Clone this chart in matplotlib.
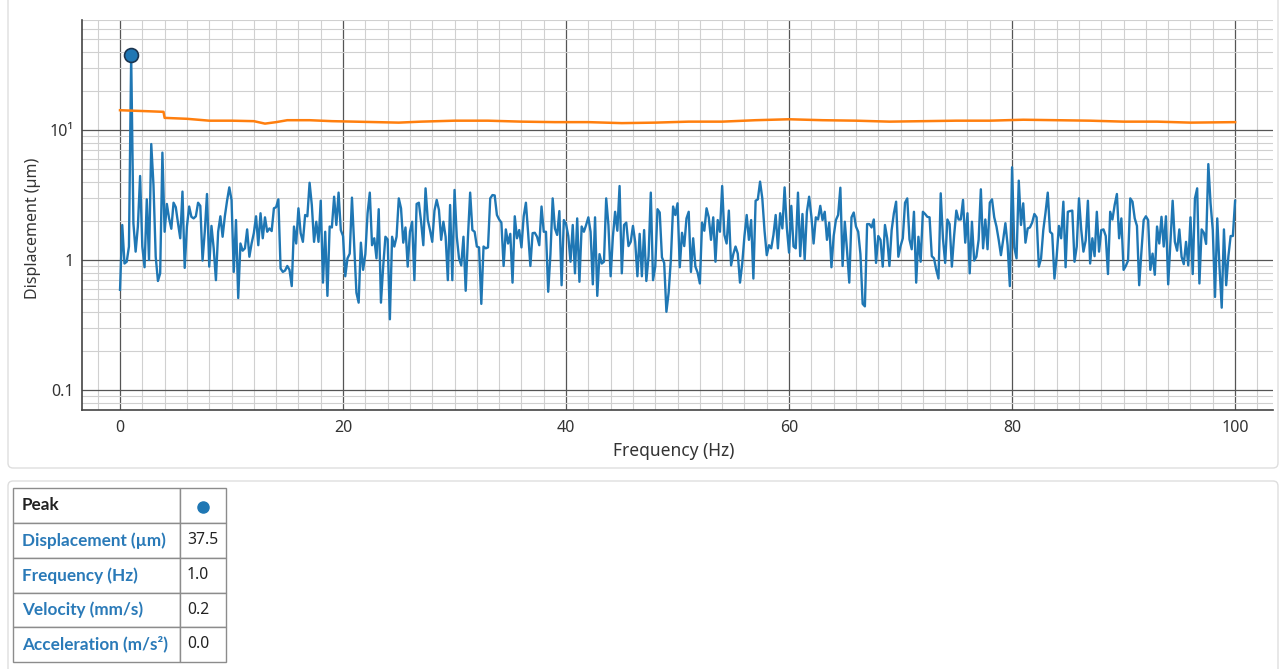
import numpy as np
import matplotlib
matplotlib.use('Agg')
import matplotlib.pyplot as plt
from matplotlib.patches import FancyBboxPatch, Rectangle
from matplotlib.ticker import FixedLocator, FixedFormatter, NullFormatter

plt.rcParams['font.family'] = ['Noto Sans', 'DejaVu Sans']

# displacement spectrum, 0..100 Hz, 0.2 Hz bins
disp = [
    0.59, 1.86, 0.94, 0.97, 1.27, 37.5, 1.92, 1.16, 1.81, 4.43,
    1.27, 0.88, 2.93, 1.00, 7.8, 3.78, 1.06, 0.69, 0.79, 6.7,
    1.65, 2.70, 2.09, 1.74, 2.76, 2.55, 1.92, 1.47, 3.36, 0.87,
    1.81, 2.58, 2.15, 2.09, 2.17, 2.76, 2.61, 0.99, 1.65, 3.22,
    0.89, 1.83, 1.23, 0.70, 1.65, 2.17, 1.51, 2.17, 2.86, 3.62,
    2.90, 0.81, 2.03, 0.51, 1.34, 1.18, 1.23, 1.72, 1.06, 1.34,
    1.61, 2.17, 1.30, 2.29, 1.47, 2.13, 1.65, 1.75, 1.67, 2.50,
    2.55, 2.93, 0.86, 0.81, 0.83, 0.90, 0.84, 0.63, 1.81, 1.34,
    2.50, 1.61, 1.38, 2.22, 2.17, 3.93, 2.65, 1.38, 1.97, 1.38,
    2.86, 0.67, 1.65, 0.53, 1.81, 1.78, 3.07, 1.86, 3.30, 1.70,
    1.53, 0.75, 1.03, 1.12, 3.02, 1.30, 0.56, 0.47, 1.36, 0.84,
    1.11, 2.29, 3.30, 1.30, 1.47, 1.03, 2.46, 0.47, 0.89, 1.51,
    1.44, 0.35, 1.51, 1.27, 1.51, 2.98,
    2.50, 1.36, 1.78, 0.89, 1.65, 1.97, 0.70, 2.70, 2.76, 1.97,
    1.30, 3.56, 2.03, 1.70, 1.38, 2.40, 2.90, 2.43, 1.43, 1.97,
    1.51, 0.70, 2.65, 0.70, 3.46, 1.51, 1.03, 0.91, 1.51, 0.58,
    1.49, 3.30, 1.70, 1.65, 1.27, 1.25, 0.46, 1.27, 1.23, 1.25,
    2.98, 3.16, 3.14, 2.22, 2.05, 1.94, 0.90, 1.72, 1.34, 1.59,
    0.67, 2.17, 1.47, 1.70, 1.25, 2.17, 2.76, 1.61, 0.90, 1.61,
    1.62, 1.51, 1.30, 2.58, 1.65, 1.65, 0.57, 1.11, 2.98, 1.75,
    1.56, 2.38, 0.64, 2.03, 1.89, 1.53, 0.97, 1.86, 0.79, 2.09,
    0.68, 1.81, 1.65, 1.86, 2.13, 1.65, 0.65, 2.13, 0.53, 1.11,
    0.94, 0.97, 2.98, 1.86, 0.75, 1.51, 2.35, 1.68, 3.71, 0.79,
    1.86, 1.94, 1.28, 1.38, 1.83, 1.38, 0.75, 1.59, 0.75, 1.70,
    0.69, 1.07, 3.30, 0.70, 0.89, 2.46, 2.32, 1.05, 0.95, 0.40,
    0.56, 1.01, 2.58, 2.22, 2.73, 0.88,
    1.62, 1.28, 2.09, 2.35, 0.81, 1.47, 0.89, 0.80, 0.66, 1.94,
    1.68, 2.50, 2.13, 1.43, 2.13, 0.97, 2.03, 1.65, 3.71, 1.56,
    1.34, 2.40, 0.91, 1.11, 1.27, 1.12, 0.67, 0.94, 1.53, 2.22,
    1.43, 2.03, 0.72, 2.86, 2.93, 4.01, 2.98, 1.68, 1.09, 1.30,
    1.23, 1.56, 2.22, 1.23, 2.29, 1.75, 3.62, 1.77, 1.14, 2.61,
    1.27, 1.23, 3.30, 1.07, 2.26, 1.01, 2.35, 3.07, 2.17, 1.34,
    2.13, 2.05, 2.61, 2.03, 2.35, 1.43, 1.94, 0.88, 1.53, 2.03,
    2.22, 3.60, 0.90, 1.97, 1.18, 0.67, 2.13, 2.32, 1.81, 1.65,
    1.11, 0.46, 0.44, 1.89, 1.89, 1.78, 2.05, 0.95, 1.53, 1.43,
    0.89, 1.86, 1.47, 0.90, 1.70, 2.29, 2.81, 1.06, 1.28, 1.47,
    2.76, 2.98, 1.44, 1.21, 2.35, 0.67, 1.51, 0.97, 2.35, 2.26,
    2.15, 2.13, 1.07, 1.03, 0.84, 0.72, 3.26, 1.47, 0.95, 2.05,
    1.89, 0.89, 1.53, 2.40, 2.05,
    2.05, 2.90, 1.36, 2.29, 0.79, 1.97, 0.99, 1.06, 1.43, 3.50,
    1.23, 2.05, 1.21, 2.76, 2.93, 2.13, 1.81, 1.43, 1.09, 1.43,
    1.92, 1.30, 0.63, 5.17, 1.25, 1.03, 4.08, 1.86, 2.73, 1.36,
    1.75, 1.78, 1.94, 2.26, 2.13, 0.89, 1.03, 1.70, 2.32, 3.30,
    1.65, 1.59, 0.72, 1.07, 1.83, 1.47, 2.81, 0.88, 2.35, 2.38,
    2.40, 0.97, 1.27, 2.98, 1.72, 1.16, 1.41, 2.86, 0.94, 1.47,
    1.07, 2.35, 1.16, 1.70, 1.72, 1.53, 0.78, 2.35, 2.05, 2.65,
    3.22, 1.47, 2.09, 0.84, 0.90, 0.99, 2.98, 2.81, 2.09, 1.83,
    0.64, 1.16, 2.03, 2.17, 2.03, 0.84, 1.12, 0.77, 1.81, 1.34,
    2.15, 1.27, 2.17, 0.65, 1.34, 2.86, 1.38, 1.18, 1.72, 1.06,
    0.93, 1.38, 0.91, 2.13, 0.78, 2.98, 3.56, 0.66, 1.72, 1.62,
    1.33, 5.47, 2.73, 1.70, 0.52, 2.09, 0.89, 0.43, 1.72, 0.64,
    1.07, 1.53, 1.53, 2.86,
]
freq = np.linspace(0, 100, len(disp))

# alarm threshold line
thr_freq = [0, 2, 3.9, 4.0, 5, 6, 7, 8, 10, 12, 13, 14, 15, 17, 19, 21, 23, 25, 27, 30,
            33, 36, 39, 42, 45, 48, 51, 54, 57, 60, 63, 66, 69, 72, 75, 78, 81, 84, 87, 90,
            93, 96, 100]
thr_disp = [14.2, 14.0, 13.8, 12.4, 12.3, 12.2, 12.0, 11.8, 11.8, 11.7, 11.2, 11.5, 11.9, 11.9,
            11.7, 11.6, 11.5, 11.4, 11.6, 11.8, 11.8, 11.6, 11.5, 11.5, 11.3, 11.4, 11.6, 11.6,
            11.9, 12.1, 11.9, 11.8, 11.6, 11.7, 11.8, 11.8, 12.0, 11.9, 11.8, 11.6, 11.6, 11.4,
            11.5]

peak_freq = 1.0
peak_disp = 37.5

x_ticks = [0, 20, 40, 60, 80, 100]
y_ticks = [0.1, 1, 10]
y_ticklabels = ['0.1', '1', '10\u00b9']

table_header = 'Peak'
table_labels = ['Displacement (\u00b5m)', 'Frequency (Hz)', 'Velocity (mm/s)', 'Acceleration (m/s\u00b2)']
table_values = ['37.5', '1.0', '0.2', '0.0']

BLUE = '#1f77b4'
ORANGE = '#ff7f0e'
W, H = 1280, 669
BOLD_FONT = ['Lato', 'DejaVu Sans']

fig = plt.figure(figsize=(W / 100, H / 100), dpi=100)

# page background with the two cards, in pixel coords
bg = fig.add_axes([0, 0, 1, 1])
bg.set_xlim(0, W)
bg.set_ylim(H, 0)
bg.axis('off')
bg.add_patch(FancyBboxPatch((8, -10), 1270, 478, boxstyle='round,pad=0,rounding_size=5',
                            fc='white', ec='#dedede', lw=1))
bg.add_patch(FancyBboxPatch((8, 481), 1270, 200, boxstyle='round,pad=0,rounding_size=5',
                            fc='white', ec='#dedede', lw=1))

# chart
ax = fig.add_axes([82 / W, 1 - 410 / H, (1273 - 82) / W, (410 - 20) / H])
ax.plot(freq, disp, color=BLUE, lw=1.7, zorder=3)
ax.plot(thr_freq, thr_disp, color=ORANGE, lw=1.8, zorder=3)
ax.plot([peak_freq], [peak_disp], 'o', ms=10, mfc=BLUE, mec='#1b3550', mew=1.2, zorder=4)

ax.set_yscale('log')
ax.set_xlim(-3.41, 103.4)
ax.set_ylim(0.0702, 70.2)

ax.xaxis.set_major_locator(FixedLocator(x_ticks))
ax.xaxis.set_minor_locator(FixedLocator(np.arange(-2, 104, 2)))
ax.yaxis.set_major_locator(FixedLocator(y_ticks))
ax.yaxis.set_major_formatter(FixedFormatter(y_ticklabels))
minor_y = [m * d for d in (0.01, 0.1, 1, 10) for m in range(2, 10)]
ax.yaxis.set_minor_locator(FixedLocator(minor_y))
ax.yaxis.set_minor_formatter(NullFormatter())

ax.grid(which='minor', color='#d0d0d0', lw=0.8)
ax.grid(which='major', color='#555555', lw=0.9)
ax.set_axisbelow(True)
ax.tick_params(which='both', length=0, labelsize=11.5, colors='#333333')
ax.tick_params(axis='x', pad=7)
ax.tick_params(axis='y', pad=6)
for s in ['top', 'right']:
    ax.spines[s].set_visible(False)
for s in ['left', 'bottom']:
    ax.spines[s].set_color('#444444')
    ax.spines[s].set_linewidth(1.2)

fig.text(674 / W, 1 - 451 / H, 'Frequency (Hz)', ha='center', va='center', fontsize=12.5, color='#333333')
fig.text(33 / W, 1 - 228 / H, 'Displacement (\u00b5m)', ha='center', va='center', rotation=90,
         fontsize=11.5, color='#333333')

# peak table
rows = [488, 523, 558, 592.5, 627, 661.5]
cols = [13, 180, 226]
for r in range(len(rows) - 1):
    for c in range(len(cols) - 1):
        bg.add_patch(Rectangle((cols[c], rows[r]), cols[c + 1] - cols[c], rows[r + 1] - rows[r],
                               fc='white', ec='#8c8c8c', lw=1))
bg.text(22, (rows[0] + rows[1]) / 2, table_header, ha='left', va='center', fontsize=12.3,
        fontweight='bold', family=BOLD_FONT, color='#222222')
bg.plot([(cols[1] + cols[2]) / 2], [(rows[0] + rows[1]) / 2 + 1], 'o', ms=8, color=BLUE)
for i, (lab, val) in enumerate(zip(table_labels, table_values)):
    yc = (rows[i + 1] + rows[i + 2]) / 2
    bg.text(22, yc, lab, ha='left', va='center', fontsize=12.3, fontweight='bold',
            family=BOLD_FONT, color='#2a7ab8')
    bg.text(187, yc, val, ha='left', va='center', fontsize=11.3, color='#222222')

fig.savefig('out.png', dpi=100)
